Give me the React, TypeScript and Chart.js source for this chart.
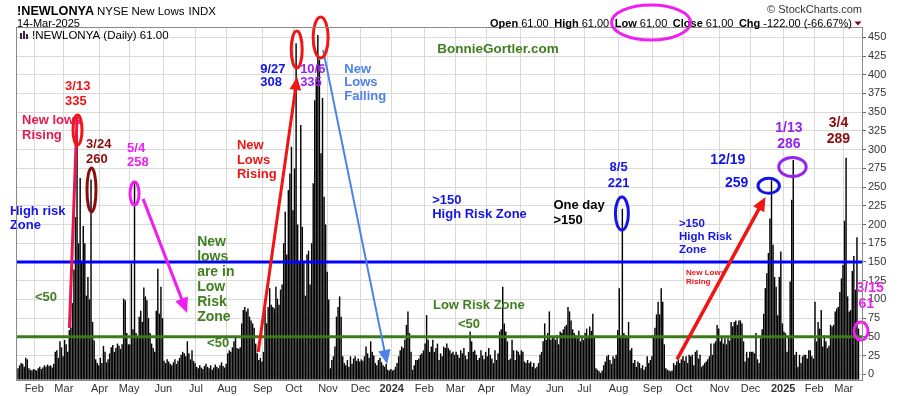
import React, { useEffect, useRef } from 'react';
import { Chart, registerables } from 'chart.js';
Chart.register(...registerables);

const FONT = '"Liberation Sans", Arial, Helvetica, sans-serif';

// ---------------- data: NYSE new lows, one value per trading day ----------------
const jan23 = [8, 12, 15, 14, 10, 22, 20, 8, 6, 5, 7];
const feb23 = [6, 5, 8, 10, 7, 9, 12, 10, 13, 11, 12, 9, 14, 30, 32, 22, 44, 36, 24];
const mar23 = [46, 40, 30, 59, 62, 95, 140, 210, 335, 175, 262, 150, 198, 175, 105, 130, 100, 260, 70, 45, 20, 15, 12];
const apr23 = [22, 15, 38, 30, 16, 20, 28, 36, 39, 30, 35, 41, 38, 34, 40, 101, 99, 55, 40];
const may23 = [40, 148, 60, 256, 55, 50, 77, 85, 70, 116, 104, 99, 75, 55, 41, 35, 30, 85, 141, 81, 117, 75];
const jun23 = [18, 15, 20, 17, 14, 12, 16, 20, 14, 18, 22, 26, 30, 28, 24, 44, 28, 20, 32, 18, 15];
const jul23 = [10, 8, 12, 9, 7, 11, 14, 10, 8, 12, 6, 9, 13, 10, 8, 12, 16, 11, 9, 14];
const aug23 = [28, 32, 30, 36, 44, 50, 35, 34, 36, 68, 86, 90, 84, 88, 77, 72, 68, 62, 41, 28, 19, 22, 17];
const sep23 = [30, 86, 68, 90, 115, 93, 90, 88, 117, 101, 93, 113, 120, 175, 217, 160, 246, 268, 304, 219];
const oct23 = [275, 442, 200, 150, 333, 197, 150, 105, 160, 165, 120, 175, 255, 366, 393, 453, 420, 295, 369, 237, 200, 137];
const nov23 = [100, 8, 19, 24, 37, 77, 90, 104, 77, 24, 15, 12, 19, 10, 24, 14, 21, 24, 18, 21, 17];
const dec23 = [20, 18, 24, 37, 28, 22, 44, 30, 25, 15, 12, 19, 22, 16, 12, 10, 14, 6, 5, 7];
const jan24 = [5, 6, 10, 15, 24, 32, 37, 35, 46, 66, 84, 55, 30, 6, 12, 19, 19, 21, 26, 28, 32];
const feb24 = [41, 79, 46, 30, 37, 46, 30, 35, 41, 19, 28, 24, 37, 35, 41, 35, 32, 28, 30, 26];
const mar24 = [30, 26, 22, 32, 28, 35, 25, 20, 30, 57, 44, 30, 32, 26, 19, 22, 32, 25, 20, 30];
const apr24 = [24, 35, 26, 21, 15, 32, 19, 28, 57, 60, 117, 68, 57, 44, 19, 21, 46, 32, 19, 32, 30, 26];
const may24 = [32, 30, 17, 15, 19, 15, 17, 10, 15, 8, 10, 15, 26, 30, 44, 68, 46, 55, 84, 46, 50, 48];
const jun24 = [46, 52, 40, 57, 55, 60, 64, 66, 90, 84, 72, 60, 55, 52, 48, 58, 44, 50, 46];
const jul24 = [55, 61, 50, 64, 58, 81, 50, 8, 6, 4, 2, 5, 12, 17, 24, 26, 19, 14, 24, 21, 26, 59];
const aug24 = [115, 50, 221, 55, 52, 50, 70, 32, 35, 15, 19, 10, 17, 15, 8, 12, 6, 10, 24, 15, 19, 24];
const sep24 = [52, 62, 80, 97, 80, 115, 97, 40, 8, 6, 5, 4, 5, 15, 12, 17, 21, 15, 20, 24];
const oct24 = [18, 24, 15, 26, 24, 26, 12, 30, 32, 21, 26, 10, 12, 15, 17, 20, 24, 41, 26, 41, 44, 66, 61];
const nov24 = [44, 50, 41, 48, 40, 48, 45, 70, 64, 70, 72, 66, 72, 72, 68, 44, 17, 30, 22, 30];
const dec24 = [30, 30, 28, 55, 20, 15, 48, 60, 81, 115, 135, 162, 208, 259, 173, 130, 117, 79, 130, 164, 68];
const jan25 = [57, 55, 30, 50, 124, 233, 286, 26, 30, 10, 26, 15, 24, 26, 26, 21, 32, 32, 24, 21];
const feb25 = [97, 44, 70, 61, 86, 37, 52, 44, 35, 38, 66, 64, 66, 84, 88, 90, 110, 128, 146];
const mar25 = [205, 289, 104, 84, 86, 138, 158, 113, 183, 61];

const monthBlocks = [jan23, feb23, mar23, apr23, may23, jun23, jul23, aug23, sep23, oct23, nov23, dec23,
  jan24, feb24, mar24, apr24, may24, jun24, jul24, aug24, sep24, oct24, nov24, dec24, jan25, feb25, mar25];
const monthTickLabels = ['', 'Feb', 'Mar', 'Apr', 'May', 'Jun', 'Jul', 'Aug', 'Sep', 'Oct', 'Nov', 'Dec',
  '2024', 'Feb', 'Mar', 'Apr', 'May', 'Jun', 'Jul', 'Aug', 'Sep', 'Oct', 'Nov', 'Dec', '2025', 'Feb', 'Mar'];
const yTickValues = [0, 25, 50, 75, 100, 125, 150, 175, 200, 225, 250, 275, 300, 325, 350, 375, 400, 425, 450];
const zoneLevels = [150, 50];

const newLows: number[] = monthBlocks.flat();
const monthTicks: { value: number; label: string }[] = [];
{
  let acc = 0;
  monthBlocks.forEach((b, k) => {
    if (k > 0) monthTicks.push({ value: acc - 0.5, label: monthTickLabels[k] });
    acc += b.length;
  });
}

// ---------------- colours ----------------
const RED = '#f01414';
const CRIMSON = '#e8174d';
const DARKRED = '#8c0c0c';
const MAGENTA = '#f01ef0';
const BLUE = '#1414e6';
const PURPLE = '#9a22ee';
const CORNFLOWER = '#4d82e6';
const GREEN = '#3f7f1f';

// ---------------- annotations (anchored at [trading-day index, value]) ----------------
type Note = { t: string[]; i: number; v: number; c: string; s: number; lh?: number; a?: CanvasTextAlign };
const notes: Note[] = [
  { t: ['3/13', '335'], i: 30.3, v: 385, c: RED, s: 13, lh: 15 },
  { t: ['New lows', 'Rising'], i: 2.6, v: 339.5, c: CRIMSON, s: 13, lh: 15 },
  { t: ['3/24', '260'], i: 43.8, v: 307.5, c: DARKRED, s: 13, lh: 15 },
  { t: ['5/4', '258'], i: 70.2, v: 301, c: MAGENTA, s: 13, lh: 13.5 },
  { t: ['High risk', 'Zone'], i: -5.2, v: 218, c: BLUE, s: 13, lh: 14 },
  { t: ['<50'], i: 10.9, v: 102, c: GREEN, s: 13 },
  { t: ['New', 'lows', 'are in', 'Low', 'Risk', 'Zone'], i: 115.3, v: 176.6, c: GREEN, s: 14, lh: 15 },
  { t: ['<50'], i: 121.7, v: 41.8, c: GREEN, s: 13 },
  { t: ['New', 'Lows', 'Rising'], i: 140.9, v: 305.2, c: RED, s: 13, lh: 14.2 },
  { t: ['9/27', '308'], i: 155.9, v: 407.6, c: BLUE, s: 13, lh: 13.5 },
  { t: ['10/6', '335'], i: 181.6, v: 407.6, c: PURPLE, s: 13, lh: 13.5 },
  { t: ['New', 'Lows', 'Falling'], i: 210, v: 407.6, c: CORNFLOWER, s: 13, lh: 13.8 },
  { t: ['BonnieGortler.com'], i: 269.9, v: 434, c: GREEN, s: 13.5 },
  { t: ['>150', 'High Risk Zone'], i: 266.6, v: 232.7, c: BLUE, s: 13, lh: 14.5 },
  { t: ['One day', '>150'], i: 344.6, v: 225.1, c: '#000', s: 13, lh: 14.3 },
  { t: ['8/5', '221'], i: 386.6, v: 275.8, c: BLUE, s: 13, lh: 15.3, a: 'center' },
  { t: ['Low Risk Zone'], i: 267.1, v: 91.6, c: GREEN, s: 13 },
  { t: ['<50'], i: 283.2, v: 66.8, c: GREEN, s: 13 },
  { t: ['>150', 'High Risk', 'Zone'], i: 425.4, v: 200.3, c: BLUE, s: 11.5, lh: 13 },
  { t: ['New Lows', 'Rising'], i: 430, v: 135.6, c: RED, s: 8, lh: 9 },
  { t: ['12/19'], i: 468.2, v: 286.1, c: BLUE, s: 14, a: 'right' },
  { t: ['259'], i: 470.1, v: 255.8, c: BLUE, s: 14, a: 'right' },
  { t: ['1/13', '286'], i: 496.2, v: 328.4, c: PURPLE, s: 14, lh: 16, a: 'center' },
  { t: ['3/4', '289'], i: 528.1, v: 335.1, c: DARKRED, s: 14, lh: 15.7, a: 'center' },
  { t: ['3/15'], i: 539.7, v: 115.6, c: MAGENTA, s: 14 },
  { t: ['61'], i: 541, v: 93.5, c: MAGENTA, s: 14 },
];

type Arrow = { i1: number; v1: number; i2: number; v2: number; c: string; w: number; head: boolean; hl?: number };
const arrows: Arrow[] = [
  { i1: 33.1, v1: 61.8, i2: 38, v2: 343.8, c: CRIMSON, w: 3, head: false },
  { i1: 80.5, v1: 234.2, i2: 108.8, v2: 82, c: MAGENTA, w: 3, head: true, hl: 15 },
  { i1: 154.6, v1: 29.8, i2: 179.7, v2: 396.9, c: RED, w: 3, head: true, hl: 13 },
  { i1: 196.4, v1: 433, i2: 237.6, v2: 13.8, c: CORNFLOWER, w: 2, head: true, hl: 14 },
  { i1: 424.2, v1: 20, i2: 481.1, v2: 236.7, c: RED, w: 3.5, head: true, hl: 14 },
];

type Oval = { i: number; v: number; rx: number; ry: number; c: string };
const ovals: Oval[] = [
  { i: 38.3, v: 326.2, rx: 4.5, ry: 15, c: RED },
  { i: 47.3, v: 246.1, rx: 4.5, ry: 22, c: DARKRED },
  { i: 75, v: 241.4, rx: 4.5, ry: 11.5, c: MAGENTA },
  { i: 179.4, v: 433.6, rx: 5.5, ry: 18.5, c: RED },
  { i: 194.8, v: 449.7, rx: 7.5, ry: 20.5, c: RED },
  { i: 388.7, v: 214.7, rx: 6.5, ry: 16.5, c: BLUE },
  { i: 483.2, v: 251.7, rx: 10.7, ry: 7.5, c: BLUE },
  { i: 498.5, v: 276.8, rx: 13.7, ry: 9.5, c: PURPLE },
  { i: 542.6, v: 57.8, rx: 7, ry: 9, c: MAGENTA },
];

function drawArrow(ctx: CanvasRenderingContext2D, x1: number, y1: number, x2: number, y2: number, c: string, w: number, head: boolean, hl = 12) {
  const ang = Math.atan2(y2 - y1, x2 - x1);
  const ex = head ? x2 - Math.cos(ang) * hl * 0.7 : x2;
  const ey = head ? y2 - Math.sin(ang) * hl * 0.7 : y2;
  ctx.strokeStyle = c;
  ctx.lineWidth = w;
  ctx.lineCap = 'butt';
  ctx.beginPath();
  ctx.moveTo(x1, y1);
  ctx.lineTo(ex, ey);
  ctx.stroke();
  if (head) {
    const hw = hl * 0.45;
    const bx = x2 - Math.cos(ang) * hl;
    const by = y2 - Math.sin(ang) * hl;
    ctx.fillStyle = c;
    ctx.beginPath();
    ctx.moveTo(x2, y2);
    ctx.lineTo(bx + Math.sin(ang) * hw, by - Math.cos(ang) * hw);
    ctx.lineTo(bx - Math.sin(ang) * hw, by + Math.cos(ang) * hw);
    ctx.closePath();
    ctx.fill();
  }
}

const annotPlugin = {
  id: 'annot',
  afterDatasetsDraw(chart: any) {
    const { ctx, chartArea } = chart;
    const xs = chart.scales.x;
    const ys = chart.scales.y;
    const X = (i: number) => xs.getPixelForValue(i);
    const Y = (v: number) => ys.getPixelForValue(v);
    ctx.save();
    const zoneColors = ['#0000ff', '#3a7a1c'];
    zoneLevels.forEach((lv, k) => {
      ctx.strokeStyle = zoneColors[k];
      ctx.lineWidth = 3;
      ctx.beginPath();
      ctx.moveTo(chartArea.left, Y(lv));
      ctx.lineTo(chartArea.right, Y(lv));
      ctx.stroke();
    });
    arrows.forEach((a) => drawArrow(ctx, X(a.i1), Y(a.v1), X(a.i2), Y(a.v2), a.c, a.w, a.head, a.hl));
    ovals.forEach((o) => {
      ctx.strokeStyle = o.c;
      ctx.lineWidth = 3;
      ctx.beginPath();
      ctx.ellipse(X(o.i), Y(o.v), o.rx, o.ry, 0, 0, Math.PI * 2);
      ctx.stroke();
    });
    notes.forEach((n) => {
      ctx.font = `bold ${n.s}px ${FONT}`;
      ctx.fillStyle = n.c;
      ctx.textAlign = n.a || 'left';
      ctx.textBaseline = 'middle';
      n.t.forEach((line, k) => ctx.fillText(line, X(n.i), Y(n.v) + k * (n.lh || 14)));
    });
    ctx.restore();
  },
  afterDraw(chart: any) {
    const { ctx, chartArea } = chart;
    ctx.save();
    ctx.strokeStyle = '#8a8a8a';
    ctx.lineWidth = 1;
    ctx.strokeRect(chartArea.left - 0.5, chartArea.top - 0.5, chartArea.right - chartArea.left + 1, chartArea.bottom - chartArea.top + 1);
    // header
    ctx.textBaseline = 'alphabetic';
    ctx.textAlign = 'left';
    ctx.fillStyle = '#000';
    ctx.font = `bold 12.7px ${FONT}`;
    ctx.fillText('!NEWLONYA', 17, 15);
    ctx.font = `11.5px ${FONT}`;
    ctx.fillText('NYSE New Lows', 97, 15);
    const w1 = ctx.measureText('NYSE New Lows').width;
    ctx.fillText('INDX', 97 + w1 + 4, 15);
    ctx.font = `11px ${FONT}`;
    ctx.fillText('14-Mar-2025', 17, 26.5);
    ctx.textAlign = 'right';
    ctx.fillStyle = '#333';
    ctx.fillText('\u00A9 StockCharts.com', 862, 13);
    const segs: [string, boolean][] = [
      ['Open', true], [' 61.00', false], ['High', true], [' 61.00', false], ['Low', true], [' 61.00', false],
      ['Close', true], [' 61.00', false], ['Chg', true], [' -122.00 (-66.67%)', false],
    ];
    const widths = segs.map(([t, b]) => { ctx.font = `${b ? 'bold ' : ''}11px ${FONT}`; return ctx.measureText(t).width; });
    const total = widths.reduce((a, b) => a + b, 0);
    const startX = 490, endX = 852;
    const gap = (endX - startX - total) / 4;
    let cx = startX;
    let lowStart = 0, lowEnd = 0;
    ctx.textAlign = 'left';
    ctx.fillStyle = '#000';
    segs.forEach(([t, b], k) => {
      ctx.font = `${b ? 'bold ' : ''}11px ${FONT}`;
      if (k === 4) lowStart = cx;
      ctx.fillText(t, cx, 26.5);
      cx += widths[k];
      if (k === 5) lowEnd = cx;
      if (k % 2 === 1) cx += gap;
    });
    ctx.fillStyle = '#8b0000';
    ctx.beginPath();
    ctx.moveTo(854.5, 21.5);
    ctx.lineTo(861.5, 21.5);
    ctx.lineTo(858, 25.5);
    ctx.closePath();
    ctx.fill();
    ctx.strokeStyle = MAGENTA;
    ctx.lineWidth = 3;
    ctx.beginPath();
    ctx.ellipse((lowStart + lowEnd) / 2 + 10, 22.5, 39.5, 17.5, 0, 0, Math.PI * 2);
    ctx.stroke();
    ctx.fillStyle = '#3a2040';
    ctx.fillRect(20, 33, 2, 6);
    ctx.fillRect(23, 31, 2, 8);
    ctx.fillRect(26, 34, 2, 5);
    ctx.fillStyle = '#000';
    ctx.font = `11.5px ${FONT}`;
    ctx.textAlign = 'left';
    ctx.fillText('!NEWLONYA (Daily) 61.00', 32, 38.5);
    ctx.restore();
  },
};

export default function App() {
  const ref = useRef<HTMLCanvasElement>(null);
  useEffect(() => {
    const canvas = ref.current;
    if (!canvas) return;
    const yearVals = new Set(monthTicks.filter((m) => /^\d{4}$/.test(m.label)).map((m) => m.value));
    const labelFor = (v: number) => {
      const m = monthTicks.find((t) => Math.abs(t.value - v) < 0.01);
      return m ? m.label : '';
    };
    const chart = new Chart(canvas, {
      type: 'bar',
      data: {
        datasets: [
          {
            data: newLows.map((v, i) => ({ x: i, y: v })),
            backgroundColor: '#000',
            borderWidth: 0,
            barPercentage: 0.92,
            categoryPercentage: 1,
            base: -7,
          } as any,
        ],
      },
      options: {
        animation: false,
        responsive: false,
        devicePixelRatio: 1,
        layout: { padding: { left: 17, top: 28, right: 0, bottom: 0 } },
        plugins: { legend: { display: false }, tooltip: { enabled: false } },
        scales: {
          x: {
            type: 'linear',
            offset: false,
            min: -0.65,
            max: 543.25,
            afterBuildTicks: (s: any) => { s.ticks = monthTicks.map((m) => ({ value: m.value })); },
            afterFit: (s: any) => { s.height = 16; },
            ticks: {
              autoSkip: false,
              maxRotation: 0,
              padding: 2,
              color: '#333',
              font: (c: any) => ({ family: FONT, size: 11, weight: c.tick && yearVals.has(c.tick.value) ? 'bold' : 'normal' }),
              callback: (v: any) => labelFor(Number(v)),
            },
            grid: { color: '#d9d9d9', drawTicks: false, offset: false },
            border: { display: false },
          },
          y: {
            type: 'linear',
            position: 'right',
            min: -7.6,
            max: 462.4,
            afterBuildTicks: (s: any) => { s.ticks = yTickValues.map((v) => ({ value: v })); },
            afterFit: (s: any) => { s.width = 38; },
            ticks: { color: '#333', padding: 2, font: { family: FONT, size: 11 }, callback: (v: any) => String(v) },
            grid: { color: '#d9d9d9', tickLength: 4, tickColor: '#666' },
            border: { display: false },
          },
        },
      } as any,
      plugins: [annotPlugin],
    });
    return () => chart.destroy();
  }, []);
  return (
    <div style={{ position: 'absolute', left: 0, top: 0, width: 900, height: 396, background: '#fff' }}>
      <canvas ref={ref} width={900} height={396} style={{ display: 'block', width: 900, height: 396 }} />
    </div>
  );
}
